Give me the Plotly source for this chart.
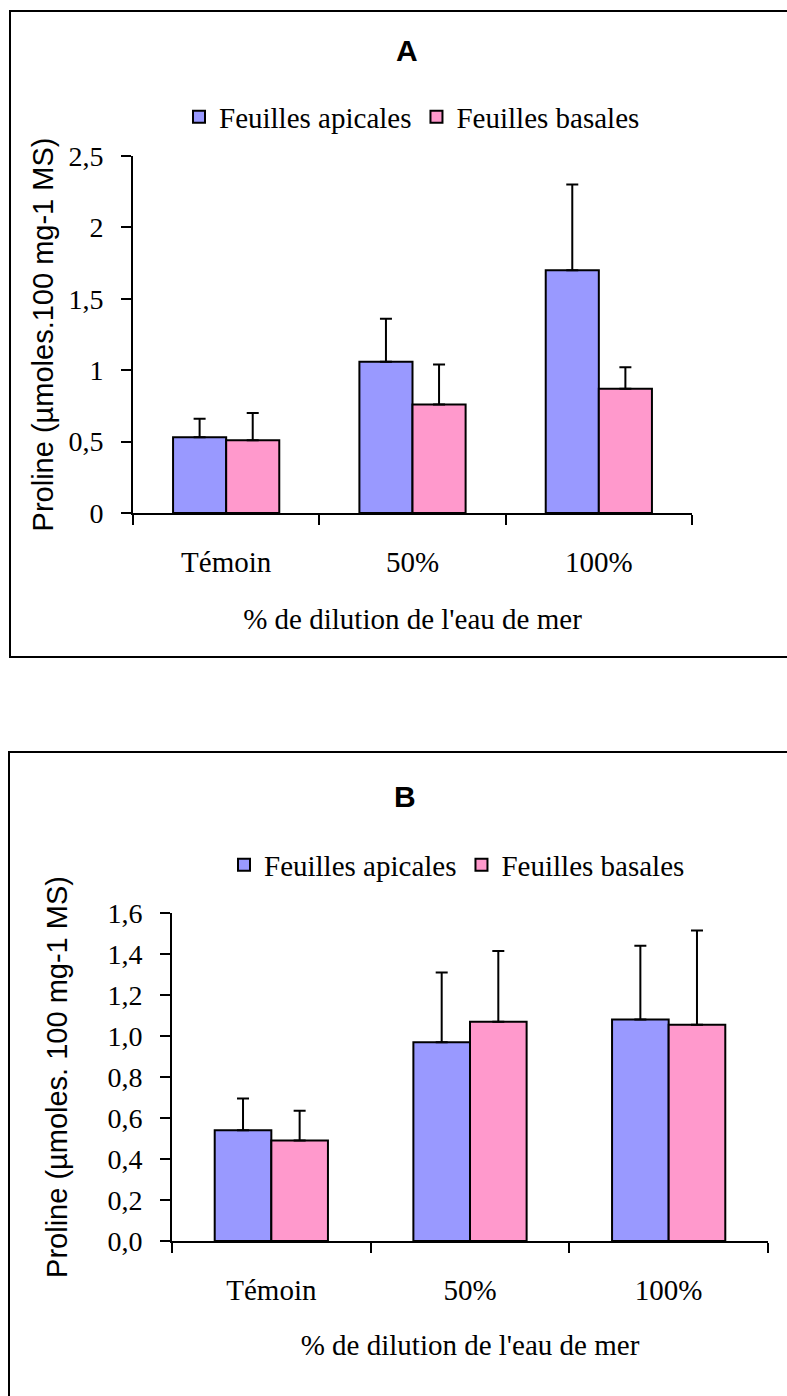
import plotly.graph_objects as go

# Proline content in leaves under increasing seawater dilution
categories = ["Témoin", "50%", "100%"]

# Panel A
a_apicales = [0.53, 1.06, 1.70]
a_apicales_err = [0.13, 0.30, 0.60]
a_basales = [0.51, 0.76, 0.87]
a_basales_err = [0.19, 0.28, 0.15]

# Panel B
b_apicales = [0.54, 0.97, 1.08]
b_apicales_err = [0.155, 0.34, 0.36]
b_basales = [0.49, 1.07, 1.055]
b_basales_err = [0.145, 0.345, 0.46]

series_names = ["Feuilles apicales", "Feuilles basales"]
colors = ["#9999FF", "#FF99CC"]

W, H = 787, 1396
SERIF = "Liberation Serif"
SANS = "Liberation Sans"


def px_x(x):
    return x / W


def px_y(y):
    return 1 - y / H


def bar(name, values, errs, color, xa, ya, legend):
    return go.Bar(
        name=name,
        x=categories,
        y=values,
        xaxis=xa,
        yaxis=ya,
        legend=legend,
        marker=dict(color=color, line=dict(color="black", width=2)),
        error_y=dict(
            type="data",
            array=errs,
            arrayminus=[0] * len(errs),
            symmetric=False,
            color="black",
            thickness=2,
            width=6,
        ),
    )


fig = go.Figure()
fig.add_trace(bar(series_names[0], a_apicales, a_apicales_err, colors[0], "x", "y", "legend"))
fig.add_trace(bar(series_names[1], a_basales, a_basales_err, colors[1], "x", "y", "legend"))
fig.add_trace(bar(series_names[0], b_apicales, b_apicales_err, colors[0], "x2", "y2", "legend2"))
fig.add_trace(bar(series_names[1], b_basales, b_basales_err, colors[1], "x2", "y2", "legend2"))

xaxis_common = dict(
    type="category",
    range=[-0.5, 2.5],
    automargin=False,
    showline=True,
    linecolor="black",
    linewidth=2,
    ticks="outside",
    tickson="boundaries",
    ticklen=10,
    tickwidth=2,
    tickcolor="black",
    ticklabelstandoff=22,
    tickfont=dict(family=SERIF, size=29, color="black"),
    showgrid=False,
    zeroline=False,
    fixedrange=True,
)
yaxis_common = dict(
    automargin=False,
    showline=True,
    linecolor="black",
    linewidth=2,
    ticks="outside",
    ticklen=10,
    tickwidth=2,
    tickcolor="black",
    ticklabelstandoff=12,
    tickfont=dict(family=SERIF, size=28, color="black"),
    showgrid=False,
    zeroline=False,
    fixedrange=True,
)

fig.update_layout(
    template="none",
    width=W,
    height=H,
    margin=dict(l=0, r=0, t=0, b=0, autoexpand=False),
    paper_bgcolor="white",
    plot_bgcolor="white",
    separators=", ",
    barmode="group",
    bargap=0.43,
    bargroupgap=0,
    xaxis=dict(
        xaxis_common,
        domain=[px_x(133), px_x(692)],
        anchor="y",
        title=dict(text="% de dilution de l'eau de mer",
                   font=dict(family=SERIF, size=29, color="black"), standoff=32),
    ),
    yaxis=dict(
        yaxis_common,
        domain=[px_y(513), px_y(156)],
        anchor="x",
        range=[0, 2.5],
        tickvals=[0, 0.5, 1, 1.5, 2, 2.5],
        ticktext=["0", "0,5", "1", "1,5", "2", "2,5"],
        title=dict(text="Proline (µmoles.100 mg-1 MS)",
                   font=dict(family=SANS, size=29, color="black"), standoff=6),
    ),
    xaxis2=dict(
        xaxis_common,
        domain=[px_x(172), px_x(768)],
        anchor="y2",
        title=dict(text="% de dilution de l'eau de mer",
                   font=dict(family=SERIF, size=29, color="black"), standoff=30),
    ),
    yaxis2=dict(
        yaxis_common,
        domain=[px_y(1241), px_y(913)],
        anchor="x2",
        range=[0, 1.6],
        dtick=0.2,
        tick0=0,
        tickformat=".1f",
        title=dict(text="Proline (µmoles. 100 mg-1 MS)",
                   font=dict(family=SANS, size=29, color="black"), standoff=31),
    ),
    legend=dict(
        orientation="h",
        x=px_x(412), xanchor="center",
        y=px_y(117), yanchor="middle",
        font=dict(family=SERIF, size=29, color="black"),
        bgcolor="rgba(0,0,0,0)",
        itemclick=False, itemdoubleclick=False,
    ),
    legend2=dict(
        orientation="h",
        x=px_x(457), xanchor="center",
        y=px_y(865), yanchor="middle",
        font=dict(family=SERIF, size=29, color="black"),
        bgcolor="rgba(0,0,0,0)",
        itemclick=False, itemdoubleclick=False,
    ),
    annotations=[
        dict(text="<b>A</b>", x=px_x(407), y=px_y(51), xref="paper", yref="paper",
             showarrow=False, xanchor="center", yanchor="middle",
             font=dict(family=SANS, size=30, color="black")),
        dict(text="<b>B</b>", x=px_x(405), y=px_y(796), xref="paper", yref="paper",
             showarrow=False, xanchor="center", yanchor="middle",
             font=dict(family=SANS, size=30, color="black")),
    ],
    shapes=[
        # frame around each panel
        dict(type="rect", xref="paper", yref="paper",
             x0=px_x(10), x1=px_x(800), y0=px_y(657), y1=px_y(11),
             line=dict(color="black", width=2), fillcolor="rgba(0,0,0,0)", layer="below"),
        dict(type="rect", xref="paper", yref="paper",
             x0=px_x(9), x1=px_x(800), y0=px_y(1410), y1=px_y(752),
             line=dict(color="black", width=2), fillcolor="rgba(0,0,0,0)", layer="below"),
    ],
)

fig.write_html("out.html")
